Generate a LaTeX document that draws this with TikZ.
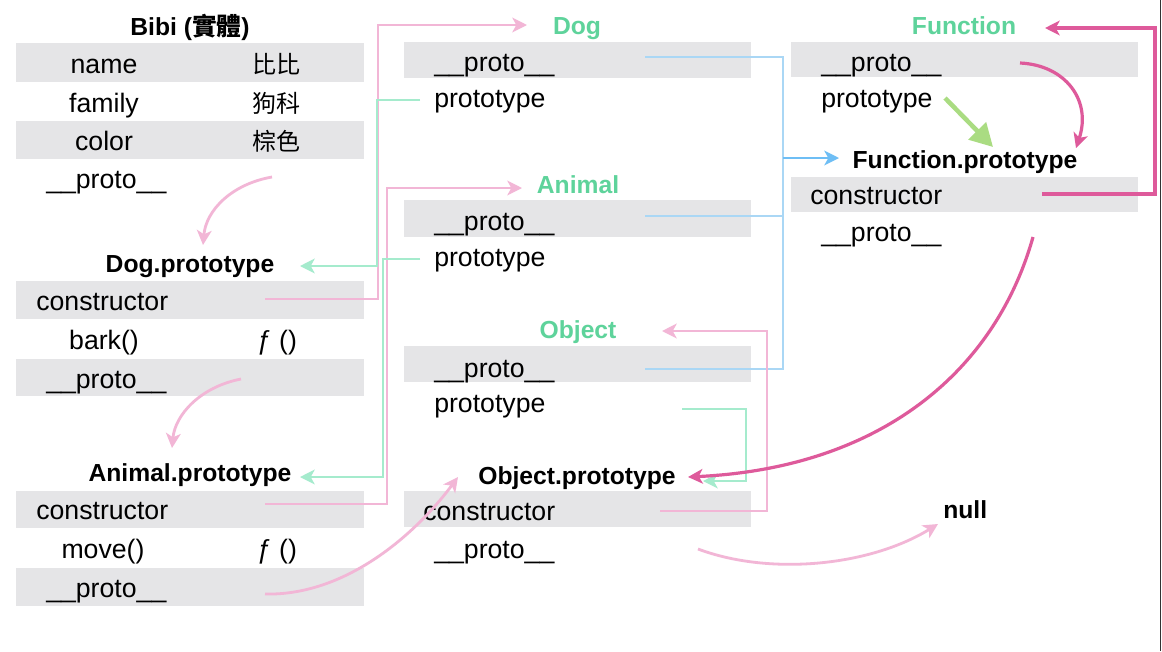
\documentclass[tikz,border=0pt]{standalone}
\usepackage{fontspec}
\setmainfont{Liberation Sans}
\newfontfamily\cjk{Noto Sans CJK TC}
\usetikzlibrary{arrows.meta}
\definecolor{barc}{RGB}{229,229,231}
\definecolor{lpink}{RGB}{242,182,214}
\definecolor{dpink}{RGB}{222,90,155}
\definecolor{lgreen}{RGB}{165,235,205}
\definecolor{tgreen}{RGB}{94,211,155}
\definecolor{lblue}{RGB}{170,215,245}
\definecolor{dblue}{RGB}{110,190,245}
\definecolor{fgreen}{RGB}{170,220,130}
\begin{document}
\begin{tikzpicture}[x=0.75pt,y=-0.75pt,
  field/.style={font=\fontsize{20}{22}\selectfont, inner sep=0pt, anchor=base west},
  fieldc/.style={field, anchor=base},
  cjkval/.style={font=\cjk\fontsize{18}{22}\selectfont, inner sep=0pt, anchor=base},
  title/.style={font=\fontsize{18.5}{22}\selectfont\bfseries, inner sep=0pt, anchor=base},
  gtitle/.style={title, text=tgreen},
  tip/.style={-{Stealth[length=11pt,width=11pt,inset=3pt]}},
  plink/.style={draw=lpink, line width=2.1pt},
  glink/.style={draw=lgreen, line width=2.1pt},
  blink/.style={draw=lblue, line width=2.1pt},
  dlink/.style={draw=dpink, line width=2.4pt},
  barrow/.style={fill=barc}
]
\useasboundingbox (0,0) rectangle (1162,651);
\fill[white] (0,0) rectangle (1162,651);
\draw[line width=0.8pt, black!80] (1160.5,0) -- (1160.5,651);

% ---------- gray bars ----------
\fill[barrow] (16,43) rectangle (364,82);
\fill[barrow] (16,121) rectangle (364,159);
\fill[barrow] (16,281) rectangle (364,319);
\fill[barrow] (16,359) rectangle (364,396);
\fill[barrow] (16,491) rectangle (364,528);
\fill[barrow] (16,568) rectangle (364,606);
\fill[barrow] (404,42) rectangle (751,78);
\fill[barrow] (404,200) rectangle (751,237);
\fill[barrow] (404,346) rectangle (751,382);
\fill[barrow] (404,491) rectangle (751,527);
\fill[barrow] (791,42) rectangle (1138,77);
\fill[barrow] (791,177) rectangle (1138,212);

% ---------- Bibi ----------
\node[title] (bibi) at (190,35) {Bibi ({\cjk 實體})};
\node[fieldc] (bname) at (104,73) {name};
\node[cjkval] (bnamev) at (276,73) {比比};
\node[fieldc] (bfam) at (104,112) {family};
\node[cjkval] (bfamv) at (276,112) {狗科};
\node[fieldc] (bcol) at (104,150) {color};
\node[cjkval] (bcolv) at (276,150) {棕色};
\node[field] (bproto) at (46,188) {\_\_proto\_\_};

% ---------- Dog.prototype ----------
\node[title] (dogp) at (190,272) {Dog.prototype};
\node[field] (dogpc) at (36,310) {constructor};
\node[fieldc] (dogpb) at (104,349) {bark()};
\node[fieldc] (dogpbv) at (277,349) {ƒ ()};
\node[field] (dogpp) at (46,388) {\_\_proto\_\_};

% ---------- Animal.prototype ----------
\node[title] (anip) at (190,481) {Animal.prototype};
\node[field] (anipc) at (36,519) {constructor};
\node[fieldc] (anipm) at (103,558) {move()};
\node[fieldc] (anipmv) at (277,558) {ƒ ()};
\node[field] (anipp) at (46,597) {\_\_proto\_\_};

% ---------- Dog ----------
\node[gtitle] (dog) at (577,34) {Dog};
\node[field] (dogproto) at (434,71) {\_\_proto\_\_};
\node[field] (dogpt) at (434,107) {prototype};

% ---------- Animal ----------
\node[gtitle] (animal) at (578,193) {Animal};
\node[field] (aniproto) at (434,230) {\_\_proto\_\_};
\node[field] (anipt) at (434,266) {prototype};

% ---------- Object ----------
\node[gtitle] (object) at (578,338) {Object};
\node[field] (objproto) at (434,377) {\_\_proto\_\_};
\node[field] (objpt) at (434,412) {prototype};

% ---------- Object.prototype ----------
\node[title] (objp) at (577,484) {Object.prototype};
\node[field] (objpc) at (423,520) {constructor};
\node[field] (objpp) at (434,558) {\_\_proto\_\_};

% ---------- Function ----------
\node[gtitle] (func) at (964,34) {Function};
\node[field] (funcproto) at (821,71) {\_\_proto\_\_};
\node[field] (funcpt) at (821,107) {prototype};

% ---------- Function.prototype ----------
\node[title] (funcp) at (965,168) {Function.prototype};
\node[field] (funcpc) at (810,204) {constructor};
\node[field] (funcpp) at (821,241) {\_\_proto\_\_};

% ---------- null ----------
\node[title, anchor=base west] (null) at (943,518) {null};

% ---------- coordinates ----------
\coordinate (c-bibi-s) at (272,177);
\coordinate (c-dogp-t) at (203,245);
\coordinate (c-dogpp-s) at (241,379);
\coordinate (c-anip-t) at (172,448);
\coordinate (c-anipp-s) at (265,594);
\coordinate (c-objp-t1) at (458,477);
\coordinate (c-objpp-s) at (698,549);
\coordinate (c-null-t) at (938,524);

% blue: __proto__ of constructors -> Function.prototype
\draw[blink] (645,57) -- (783,57) -- (783,369) -- (645,369);
\draw[blink] (645,216) -- (783,216);
\draw[draw=dblue, line width=2.1pt, tip, dblue] (783,158) -- (839,158);

% Dog constructor / prototype
\draw[plink, tip] (265,299) -- (378,299) -- (378,25) -- (527,25);
\draw[glink, tip] (420,100) -- (377,100) -- (377,266) -- (300,266);

% Animal constructor / prototype
\draw[plink, tip] (265,504) -- (387,504) -- (387,188) -- (522,188);
\draw[glink, tip] (420,259) -- (383,259) -- (383,477) -- (300,477);

% Object constructor / prototype
\draw[plink, tip] (660,511) -- (767,511) -- (767,331) -- (662,331);
\draw[glink, tip] (682,409) -- (746,409) -- (746,481) -- (703,481);

% __proto__ chain curves
\draw[plink, tip] (c-bibi-s) .. controls (232,184) and (206,210) .. (c-dogp-t);
\draw[plink, tip] (c-dogpp-s) .. controls (200,387) and (175,415) .. (c-anip-t);
\draw[plink, tip] (c-anipp-s) .. controls (345,596) and (415,535) .. (c-objp-t1);
\draw[plink, tip] (c-objpp-s) .. controls (770,576) and (870,566) .. (c-null-t);

% Function
\draw[dlink, tip] (1020,63) .. controls (1065,65) and (1092,100) .. (1076,148);
\draw[draw=fgreen, line width=3.4pt, -{Triangle[length=17pt,width=18pt]}] (945,98) -- (993,147);
\draw[dlink, tip] (1042,194) -- (1155,194) -- (1155,28) -- (1045,28);
\draw[dlink, tip] (1033,237) .. controls (995,372) and (880,468) .. (688,477);
\end{tikzpicture}
\end{document}
